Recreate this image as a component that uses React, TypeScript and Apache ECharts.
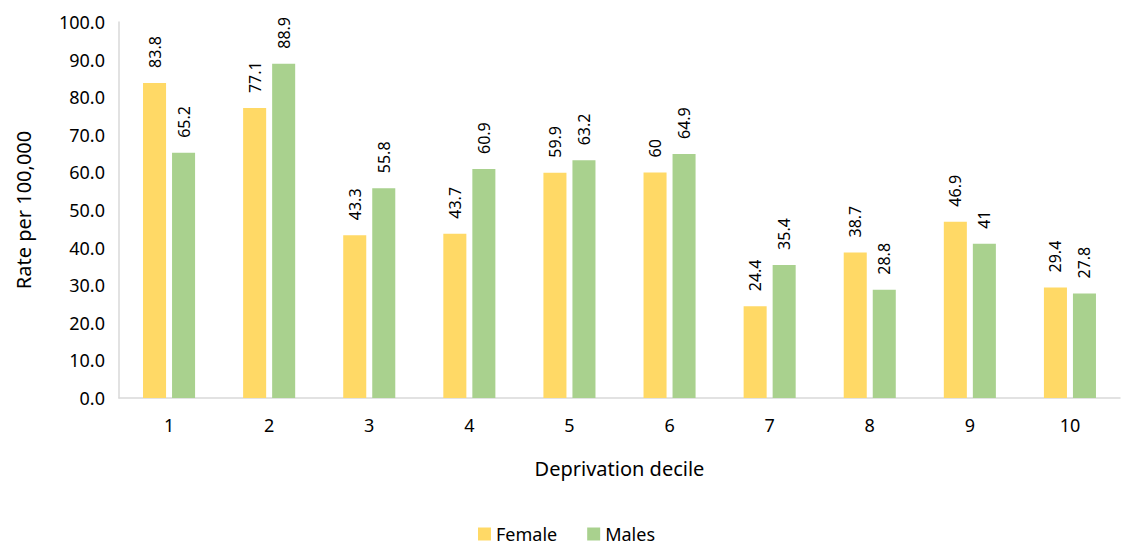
import React, { useEffect, useRef } from "react";
import * as echarts from "echarts";

const categories = ["1", "2", "3", "4", "5", "6", "7", "8", "9", "10"];
const female = [83.8, 77.1, 43.3, 43.7, 59.9, 60, 24.4, 38.7, 46.9, 29.4];
const males = [65.2, 88.9, 55.8, 60.9, 63.2, 64.9, 35.4, 28.8, 41, 27.8];

const FONT = "Noto Sans";

export default function App() {
  const ref = useRef<HTMLDivElement>(null);
  useEffect(() => {
    const chart = echarts.init(ref.current!, null, { renderer: "svg" });
    const label = {
      show: true,
      position: "top" as const,
      rotate: 90,
      align: "left" as const,
      verticalAlign: "middle" as const,
      distance: 15,
      fontFamily: FONT,
      fontSize: 16,
      color: "#000",
    };
    chart.setOption({
      animation: false,
      textStyle: { fontFamily: FONT },
      grid: { left: 119, right: 13, top: 22, bottom: 150, containLabel: false },
      legend: {
        data: ["Female", "Males"],
        top: 522,
        left: "center",
        itemWidth: 13,
        itemHeight: 13,
        itemGap: 30,
        icon: "rect",
        padding: 1,
        textStyle: { fontFamily: FONT, fontSize: 18, color: "#000", lineHeight: 22 },
      },
      xAxis: {
        type: "category",
        data: categories,
        name: "Deprivation decile",
        nameLocation: "middle",
        nameGap: 60,
        nameTextStyle: { fontFamily: FONT, fontSize: 20, color: "#000" },
        axisLine: { lineStyle: { color: "#d9d9d9", width: 1.5 } },
        axisTick: { show: false },
        axisLabel: { fontFamily: FONT, fontSize: 18, color: "#000", margin: 18 },
      },
      yAxis: {
        type: "value",
        min: 0,
        max: 100,
        interval: 10,
        name: "Rate per 100,000",
        nameLocation: "middle",
        nameGap: 86,
        nameTextStyle: { fontFamily: FONT, fontSize: 20, color: "#000" },
        axisLine: { show: true, lineStyle: { color: "#d9d9d9", width: 1.5 } },
        axisTick: { show: false },
        splitLine: { show: false },
        axisLabel: {
          fontFamily: FONT,
          fontSize: 18,
          color: "#000",
          margin: 14,
          formatter: (v: number) => v.toFixed(1),
        },
      },
      series: [
        {
          name: "Female",
          type: "bar",
          data: female,
          itemStyle: { color: "#ffd966" },
          barGap: "26%",
          barCategoryGap: "48%",
          label,
        },
        {
          name: "Males",
          type: "bar",
          data: males,
          itemStyle: { color: "#a9d18e" },
          label,
        },
      ],
    });
    return () => chart.dispose();
  }, []);
  return (
    <div
      ref={ref}
      style={{ position: "absolute", left: 0, top: 0, width: 1133, height: 548 }}
    />
  );
}
